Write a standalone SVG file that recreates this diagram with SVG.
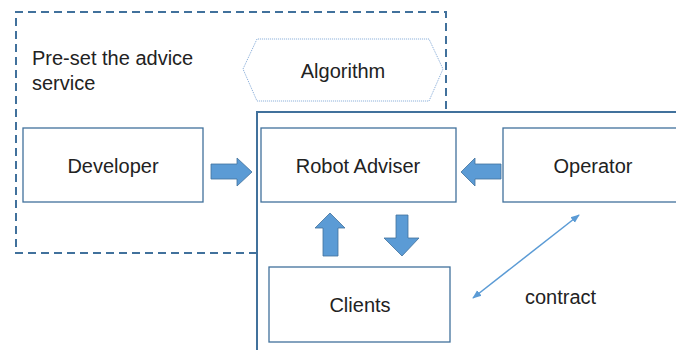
<svg xmlns="http://www.w3.org/2000/svg" width="676" height="350" viewBox="0 0 676 350">
<defs>
<style>
text{font-family:"Liberation Sans",Arial,sans-serif;font-size:20px;fill:#222}
.box{fill:#fff;stroke:#41719c;stroke-width:1.3}
.blk{fill:#5b9bd5;stroke:#41719c;stroke-width:0.8}
</style>
<marker id="ah" viewBox="0 0 10 10" refX="9" refY="5" markerWidth="6" markerHeight="6" orient="auto-start-reverse"><path d="M0,1 L10,5 L0,9 z" fill="#5b9bd5"/></marker>
</defs>
<rect width="676" height="350" fill="#fff"/>
<g id="preset">
<path d="M257,253 L16,253 L16,12 L446,12 L446,112" fill="none" stroke="#41719c" stroke-width="2" stroke-dasharray="8,5"/>
<text x="32" y="65">Pre-set the advice</text>
<text x="32" y="90">service</text>
</g>
<g id="platform">
<path d="M257,350 L257,112 L676,112" fill="none" stroke="#41719c" stroke-width="2"/>
</g>
<g id="algorithm">
<polygon points="243,69 257,39 429,39 443,69 429,101 257,101" fill="#fff" stroke="#7fa7d6" stroke-width="1" stroke-dasharray="1,1"/>
<text x="343" y="78" text-anchor="middle">Algorithm</text>
</g>
<g id="developer">
<rect class="box" x="23" y="128" width="180" height="74"/>
<text x="113" y="173" text-anchor="middle">Developer</text>
</g>
<g id="robot">
<rect class="box" x="261" y="128" width="195" height="74"/>
<text x="358" y="173" text-anchor="middle">Robot Adviser</text>
</g>
<g id="operator">
<rect class="box" x="503" y="128" width="180" height="74"/>
<text x="593" y="173" text-anchor="middle">Operator</text>
</g>
<g id="clients">
<rect class="box" x="269" y="267" width="181" height="75"/>
<text x="360" y="312" text-anchor="middle">Clients</text>
</g>
<g id="connectors">
<polygon class="blk" points="211,164 237,164 237,158 252,172 237,186 237,179 211,179"/>
<polygon class="blk" points="501,164 475,164 475,158 461,172 475,186 475,179 501,179"/>
<polygon class="blk" points="323,256 323,228 315,228 330,213 345,228 338,228 338,256"/>
<polygon class="blk" points="396,215 408,215 408,238 419,238 402,256 384,238 396,238"/>
<line x1="473" y1="298" x2="579" y2="215" stroke="#5b9bd5" stroke-width="1.5" marker-start="url(#ah)" marker-end="url(#ah)"/>
<text x="525" y="304">contract</text>
</g>
</svg>
